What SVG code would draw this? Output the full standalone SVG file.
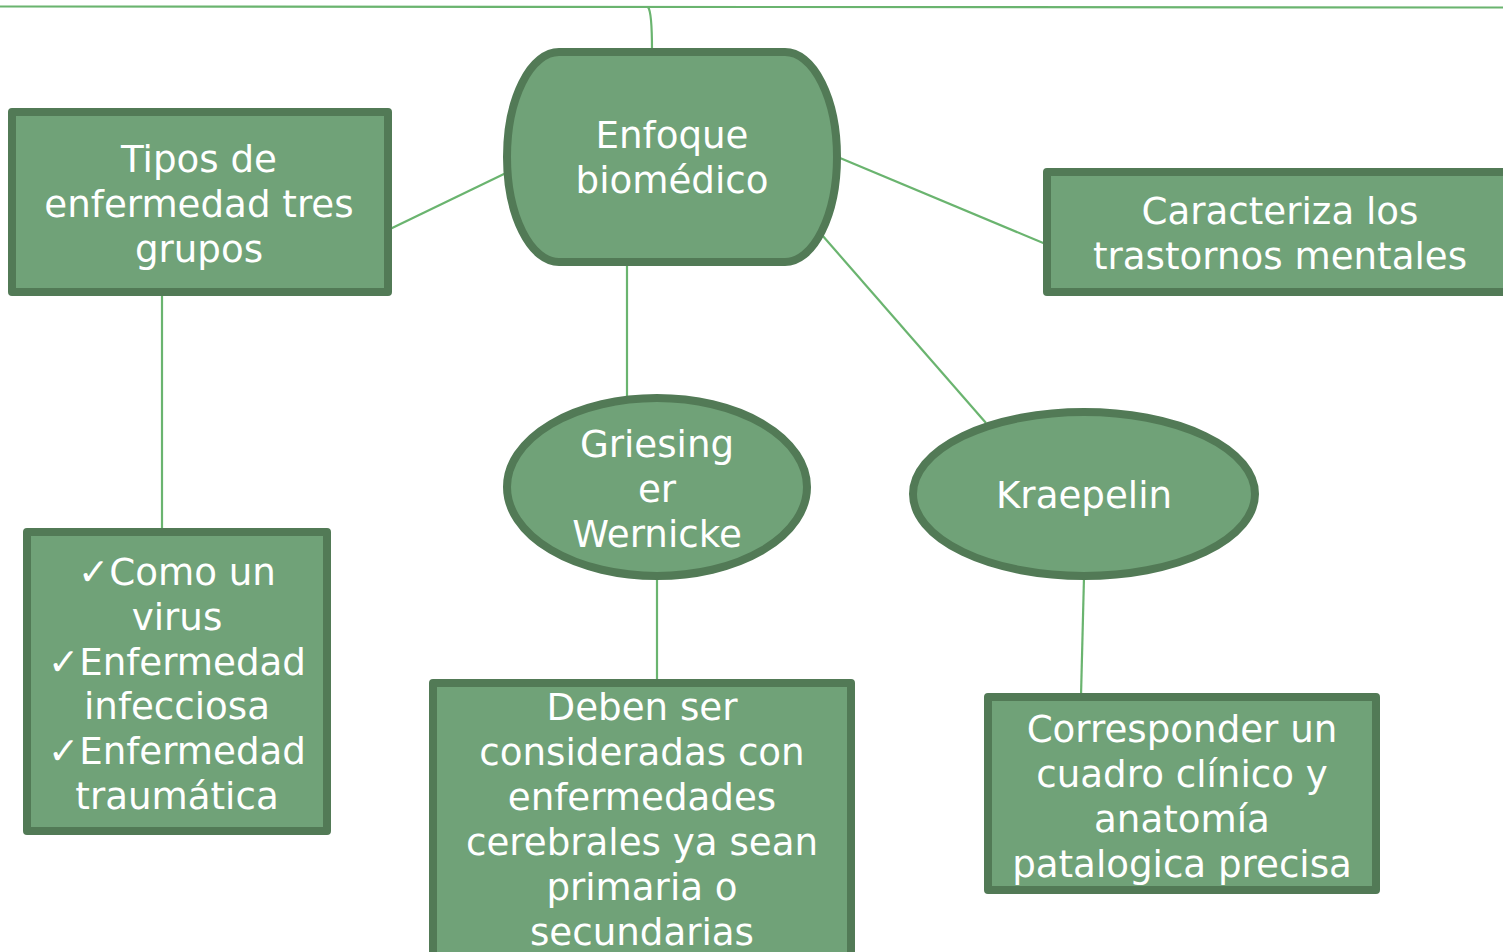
<svg xmlns="http://www.w3.org/2000/svg" width="1503" height="952" viewBox="0 0 1503 952">
  <style>
    .box { fill: #70a278; stroke: #527a56; stroke-width: 8; stroke-linejoin: round; }
    .link { fill: none; stroke: #6ab46f; stroke-width: 2.2; }
    .lbl { font-family: "DejaVu Sans", Verdana, sans-serif; font-size: 37.2px; fill: #ffffff; text-anchor: middle; }
  </style>
  <rect width="1503" height="952" fill="#ffffff"/>

  <g id="connectors">
    <path class="link" d="M0 6.5 L1503 7.5" stroke-width="2.6"/>
    <path class="link" d="M648 7 Q652 12 652 50"/>
    <path class="link" d="M388 230 L506 173"/>
    <path class="link" d="M162 293 L162 531"/>
    <path class="link" d="M627 263 L627 397"/>
    <path class="link" d="M657 577 L657 682"/>
    <path class="link" d="M822 235 L986 423"/>
    <path class="link" d="M1084 577 L1081 696"/>
    <path class="link" d="M840 158 L1048 245"/>
  </g>

  <g id="enfoque">
    <rect class="box" x="507" y="52" width="330" height="210" rx="52" ry="105"/>
    <text class="lbl" x="672" y="148">Enfoque</text>
    <text class="lbl" x="672" y="193">biomédico</text>
  </g>

  <g id="tipos">
    <rect class="box" x="12" y="112" width="376" height="180"/>
    <text class="lbl" x="199" y="172">Tipos de</text>
    <text class="lbl" x="199" y="217">enfermedad tres</text>
    <text class="lbl" x="199" y="262">grupos</text>
  </g>

  <g id="caracteriza">
    <rect class="box" x="1047" y="172" width="470" height="120"/>
    <text class="lbl" x="1280" y="224">Caracteriza los</text>
    <text class="lbl" x="1280" y="269">trastornos mentales</text>
  </g>

  <g id="tipos-lista">
    <rect class="box" x="27" y="532" width="300" height="299"/>
    <text class="lbl" x="177" y="585">✓Como un</text>
    <text class="lbl" x="177" y="630">virus</text>
    <text class="lbl" x="177" y="675">✓Enfermedad</text>
    <text class="lbl" x="177" y="719">infecciosa</text>
    <text class="lbl" x="177" y="764">✓Enfermedad</text>
    <text class="lbl" x="177" y="809">traumática</text>
  </g>

  <g id="griesinger">
    <ellipse class="box" cx="657" cy="487" rx="150" ry="89"/>
    <text class="lbl" x="657" y="457">Griesing</text>
    <text class="lbl" x="657" y="502">er</text>
    <text class="lbl" x="657" y="547">Wernicke</text>
  </g>

  <g id="kraepelin">
    <ellipse class="box" cx="1084" cy="494" rx="171" ry="82"/>
    <text class="lbl" x="1084" y="508">Kraepelin</text>
  </g>

  <g id="cerebrales">
    <rect class="box" x="433" y="683" width="418" height="290"/>
    <text class="lbl" x="642" y="720">Deben ser</text>
    <text class="lbl" x="642" y="765">consideradas con</text>
    <text class="lbl" x="642" y="810">enfermedades</text>
    <text class="lbl" x="642" y="855">cerebrales ya sean</text>
    <text class="lbl" x="642" y="900">primaria o</text>
    <text class="lbl" x="642" y="945">secundarias</text>
  </g>

  <g id="anatomia">
    <rect class="box" x="988" y="697" width="388" height="193"/>
    <text class="lbl" x="1182" y="742">Corresponder un</text>
    <text class="lbl" x="1182" y="787">cuadro clínico y</text>
    <text class="lbl" x="1182" y="832">anatomía</text>
    <text class="lbl" x="1182" y="877">patalogica precisa</text>
  </g>
</svg>
